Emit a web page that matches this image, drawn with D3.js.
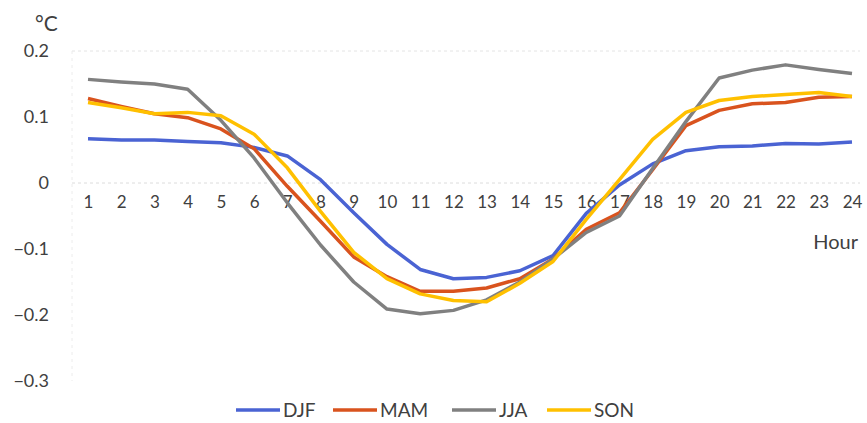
<!DOCTYPE html>
<html>
<head>
<meta charset="utf-8">
<script src="https://cdn.jsdelivr.net/npm/d3@7"></script>
<style>
  body { margin: 0; background: #fff; }
  svg { font-family: Lato, "Open Sans", sans-serif; }
</style>
</head>
<body>
<svg id="chart" width="867" height="423"></svg>
<script>
// hours on the x axis
const hours = d3.range(1, 25)

// diurnal anomaly per season, degC
const djf = [0.067, 0.065, 0.065, 0.063, 0.061, 0.054, 0.041, 0.005, -0.045, -0.093, -0.131, -0.145, -0.143, -0.133, -0.110, -0.046, -0.003, 0.029, 0.049, 0.055, 0.056, 0.060, 0.059, 0.062]
const mam = [0.128, 0.116, 0.105, 0.099, 0.082, 0.052, -0.005, -0.058, -0.112, -0.142, -0.164, -0.164, -0.159, -0.145, -0.115, -0.070, -0.045, 0.020, 0.087, 0.110, 0.120, 0.122, 0.130, 0.131]
const jja = [0.157, 0.153, 0.150, 0.142, 0.095, 0.038, -0.030, -0.094, -0.150, -0.191, -0.198, -0.193, -0.177, -0.150, -0.115, -0.075, -0.050, 0.022, 0.093, 0.159, 0.171, 0.179, 0.172, 0.166]
const son = [0.122, 0.114, 0.105, 0.107, 0.102, 0.074, 0.023, -0.043, -0.105, -0.145, -0.168, -0.178, -0.180, -0.152, -0.119, -0.055, 0.005, 0.066, 0.107, 0.125, 0.131, 0.134, 0.137, 0.131]

const seriesNames = ["DJF", "MAM", "JJA", "SON"]
const seriesColors = ["#4a63d3", "#d9531e", "#808080", "#ffc000"]
const yTicks = [0.2, 0.1, 0, -0.1, -0.2, -0.3]

const svg = d3.select("#chart")

const x = d3.scalePoint().domain(hours).range([88, 852])
const y = d3.scaleLinear().domain([-0.3, 0.2]).range([381, 51])

//----------- faint grid
svg.append("line")
    .attr("x1", 72).attr("x2", 860)
    .attr("y1", y(0.2)).attr("y2", y(0.2))
    .attr("stroke", "#e4e4e4").attr("stroke-dasharray", "3,3")
svg.append("line")
    .attr("x1", 72).attr("x2", 860)
    .attr("y1", y(0)).attr("y2", y(0))
    .attr("stroke", "#dcdcdc").attr("stroke-dasharray", "3,3")
svg.append("line")
    .attr("x1", 72).attr("x2", 72)
    .attr("y1", y(0.2)).attr("y2", y(-0.3))
    .attr("stroke", "#ececec").attr("stroke-dasharray", "3,4")

//----------- y axis labels
const yAxis = d3.axisLeft(y).tickValues(yTicks).tickSize(0).tickPadding(0)
    .tickFormat(d => d === 0 ? "0" : d3.format(".1f")(d))
const yg = svg.append("g").attr("transform", "translate(49,0)").call(yAxis)
yg.select(".domain").remove()
yg.selectAll("text").attr("font-size", 18).attr("fill", "#404040").attr("font-family", "Lato, sans-serif")

//----------- x axis labels (under the zero line)
const xAxis = d3.axisBottom(x).tickSize(0).tickPadding(0)
const xg = svg.append("g").attr("transform", "translate(0," + 196 + ")").call(xAxis)
xg.select(".domain").remove()
xg.selectAll("text").attr("font-size", 17).attr("fill", "#404040").attr("font-family", "Lato, sans-serif")

svg.append("text").attr("x", 35).attr("y", 31).text("°C")
    .attr("font-size", 21).attr("fill", "#404040")
svg.append("text").attr("x", 858).attr("y", 249).attr("text-anchor", "end").text("Hour")
    .attr("font-size", 20).attr("fill", "#404040")

//----------- lines
const allSeries = [djf, mam, jja, son]
const line = d3.line().x((d, i) => x(hours[i])).y(d => y(d))

allSeries.forEach((s, k) => {
    svg.append("path")
        .datum(s)
        .attr("d", line)
        .attr("fill", "none")
        .attr("stroke", seriesColors[k])
        .attr("stroke-width", 3.5)
        .attr("stroke-linejoin", "round")
})

//----------- legend
const legendX = [236, 333, 452, 547]
seriesNames.forEach((name, k) => {
    svg.append("line")
        .attr("x1", legendX[k]).attr("x2", legendX[k] + 44)
        .attr("y1", 410).attr("y2", 410)
        .attr("stroke", seriesColors[k]).attr("stroke-width", 3.5)
    svg.append("text")
        .attr("x", legendX[k] + 47).attr("y", 417)
        .text(name).attr("font-size", 19).attr("fill", "#404040")
})
</script>
</body>
</html>
